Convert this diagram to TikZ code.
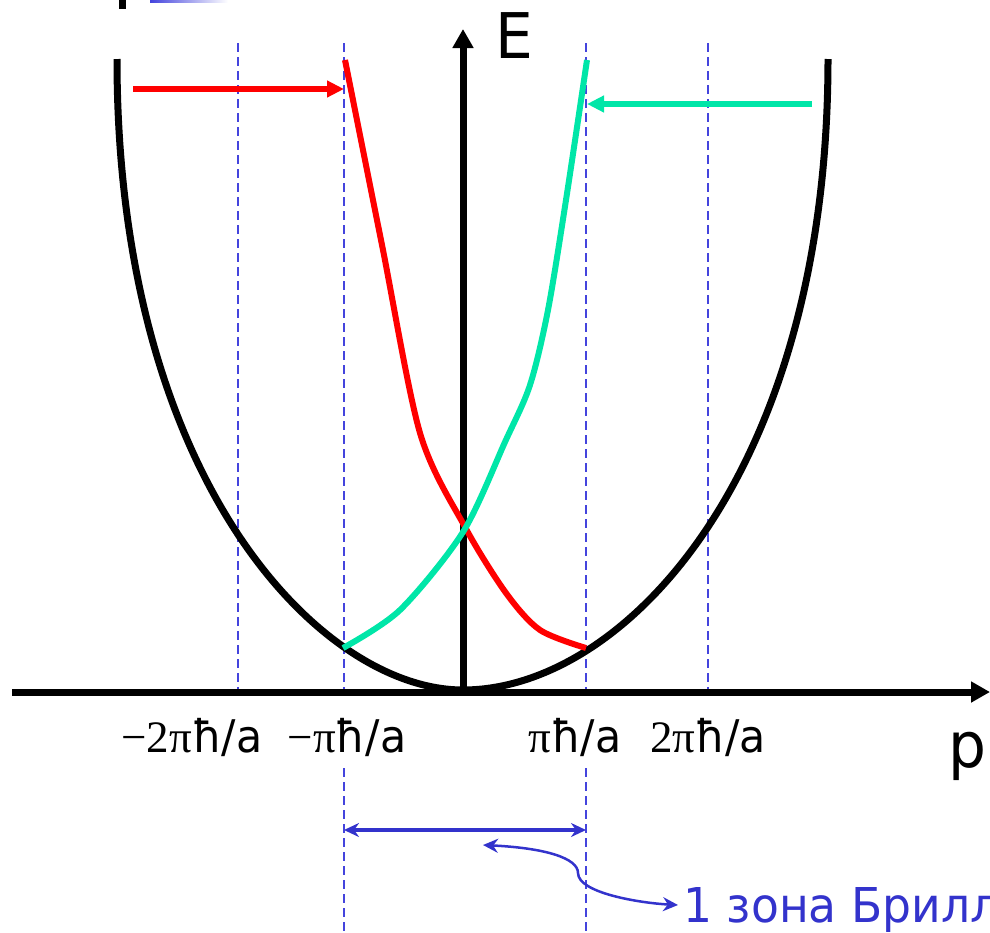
\documentclass[tikz,border=0pt]{standalone}
\usepackage{fontspec}
\setmainfont{DejaVu Sans}[FakeStretch=0.95]
\newfontfamily\tms{Liberation Serif}
\usetikzlibrary{arrows.meta}

\definecolor{bandred}{RGB}{255,0,0}
\definecolor{bandgreen}{RGB}{0,230,168}
\definecolor{zoneblue}{RGB}{68,68,221}
\definecolor{textblue}{RGB}{51,51,204}

\tikzset{
  axis/.style={line width=7pt,-{Triangle[length=19pt,width=20pt]}},
  zoneline/.style={zoneblue,line width=2pt,dash pattern=on 9pt off 5pt},
  band/.style={line width=6pt,line join=round},
  shiftarrow/.style={line width=6pt,-{Triangle[length=17pt,width=16pt]}},
  ticklabel/.style={anchor=base,font=\fontsize{45}{50}\selectfont},
  bluetip/.style={{Stealth[length=15pt,width=14pt]}-{Stealth[length=15pt,width=14pt]}},
}

\begin{document}
\begin{tikzpicture}[x=1pt,y=-1pt]
\useasboundingbox (0,0) rectangle (990,932);

% cut-off bits at the top
\fill (119,0) rectangle (126,9);
\shade[left color=zoneblue,right color=white] (150,0) rectangle (228,2);

% zone boundaries
\foreach \x in {238,344,586,708}
  \draw[zoneline] (\x,43) -- (\x,692);
\foreach \x in {344,586}
  \draw[zoneline] (\x,768) -- (\x,932);

% free particle
\coordinate (ul) at (117,59);
\coordinate (v) at (463,690);
\coordinate (ur) at (828,59);
\draw[line width=7pt] (ul) .. controls (117,482) and (322,690) .. (v)
  .. controls (624,690) and (828,474) .. (ur);

% axes
\coordinate (xs) at (12,692);
\coordinate (xe) at (990,692);
\coordinate (ys) at (463,692);
\coordinate (ye) at (463,29);
\draw[axis] (xs) -- (xe);
\draw[axis] (ys) -- (ye);
\node (E) at (514,36) {\fontsize{63}{70}\selectfont E};
\node[anchor=base] (p) at (967,767) {\fontsize{63}{70}\selectfont p};

% shifted branches
\draw[band,bandred] plot[smooth] coordinates {(345,60) (382,245) (420,433) (465,527)
  (506,593) (540,630) (586,648)};
\draw[band,bandgreen] plot[smooth] coordinates {(587,60) (566,200) (548,310) (530,385)
  (505,442) (463,532) (400,610) (343,648)};

\coordinate (rs) at (133,89);
\coordinate (re) at (344,89);
\draw[shiftarrow,bandred] (rs) -- (re);
\coordinate (gs) at (812,104);
\coordinate (ge) at (587,104);
\draw[shiftarrow,bandgreen] (gs) -- (ge);

% tick labels
\node[ticklabel] (m2) at (192,752) {{\tms −2π}ħ/a};
\node[ticklabel] (m1) at (347,752) {{\tms −π}ħ/a};
\node[ticklabel] (p1) at (575,752) {{\tms π}ħ/a};
\node[ticklabel] (p2) at (708,752) {{\tms 2π}ħ/a};

% first zone
\coordinate (bl) at (344,830);
\coordinate (br) at (586,830);
\draw[textblue,line width=4pt,bluetip] (bl) -- (br);
\node[anchor=base west,text=textblue,font=\fontsize{48}{54}\selectfont] (zone) at (680,922) {1 зона Бриллюэна};
\coordinate (cl) at (483,845);
\coordinate (cr) at (678,905);
\draw[textblue,line width=2.5pt,bluetip] (cl) .. controls (545,848) and (578,858) .. (578,873)
  .. controls (578,893) and (640,903) .. (cr);
\end{tikzpicture}
\end{document}
